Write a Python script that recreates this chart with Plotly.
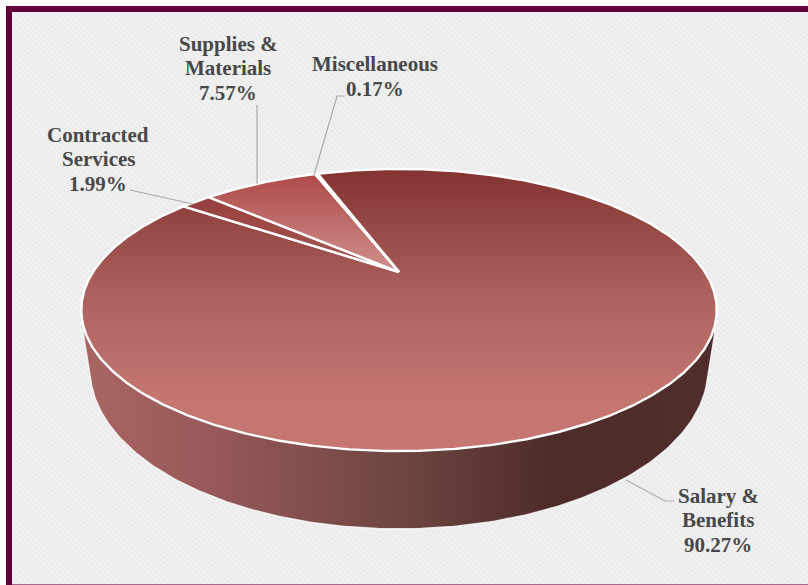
import numpy as np
import plotly.graph_objects as go

categories = ["Salary &|Benefits", "Contracted|Services", "Supplies &|Materials", "Miscellaneous"]
values = [90.27, 1.99, 7.57, 0.17]
start_angle = 340.5

W, H = 808, 585
CX, CY, A, B, K = 399, 272, 306, 130.8, 0.2695
# position 0 = bottom of the slice on screen, 1 = top (the y axis is reversed)
slice_grads = [
    [[0, "#C67772"], [0.2, "#C47570"], [0.55, "#AC625D"], [1, "#833330"]],
    [[0, "#A85A57"], [1, "#963F3C"]],
    [[0, "#D08E8C"], [0.5, "#BE6E6B"], [1, "#AE4947"]],
    [[0, "#C67070"], [1, "#AE4947"]],
]
wall_grad = [[0, "#A96663"], [0.2, "#97595A"], [0.5, "#6E4541"], [0.75, "#4C2B29"], [1, "#4F2E2C"]]


def project(phi_deg):
    p = np.radians(phi_deg)
    w = 1 + K * np.cos(p)
    return CX + A * np.sin(p) / w, CY - B * np.cos(p) / w


fig = go.Figure()

# patterned plot background
fig.add_trace(go.Scatter(
    x=[12, W, W, 12, 12], y=[12, 12, 584, 584, 12], mode="lines", line=dict(width=0),
    fill="toself", fillcolor="#EEEEEE",
    fillpattern=dict(shape="\\", size=4, solidity=0.35, fgcolor="#FBFBFB", bgcolor="#EBEBEB"),
    hoverinfo="skip"))

# side wall
t = np.linspace(174, 6, 169)
lx = 399 + 309 * np.cos(np.radians(t))
ly = 369 + 160 * np.sin(np.radians(t))
wx = np.concatenate([[81, 84], lx, [714, 717, 81]])
wy = np.concatenate([[310, 338], ly, [338, 310, 310]])
fig.add_trace(go.Scatter(
    x=wx, y=wy, mode="lines", line=dict(color="rgba(255,255,255,0.8)", width=1.5),
    fill="toself", fillgradient=dict(type="horizontal", colorscale=wall_grad), hoverinfo="skip"))

# top face slices
angle = start_angle
for val, grad in zip(values, slice_grads):
    sweep = val / sum(values) * 360
    phi = np.linspace(angle, angle + sweep, max(int(sweep * 2), 2) + 1)
    px, py = project(phi)
    fig.add_trace(go.Scatter(
        x=np.concatenate([[CX], px, [CX]]), y=np.concatenate([[CY], py, [CY]]),
        mode="lines", line=dict(color="white", width=2.4),
        fill="toself", fillgradient=dict(type="vertical", colorscale=grad), hoverinfo="skip"))
    angle += sweep

# leader lines
leaders = [
    ([626, 665, 674], [480, 501, 501]),
    ([193, 130], [204, 190]),
    ([257, 257], [184, 105]),
    ([314, 337, 345], [175, 96, 96]),
]
for lxs, lys in leaders:
    fig.add_trace(go.Scatter(x=lxs, y=lys, mode="lines", line=dict(color="#ABABAB", width=1.2), hoverinfo="skip"))

# labels: one annotation per text line, reference leading is 24.5 px
label_pos = [(718, 520), (98, 159), (228, 68), (375, 76.5)]
for cat, val, (x, y) in zip(categories, values, label_pos):
    lines = cat.split("|") + [f"{val:.2f}%"]
    y0 = y - (len(lines) - 1) * 24.5 / 2
    for i, line in enumerate(lines):
        fig.add_annotation(x=x, y=y0 + i * 24.5, text=f"<b>{line}</b>", showarrow=False,
                           xanchor="center", yanchor="middle",
                           font=dict(family="Liberation Serif", size=21, color="#484848"))

fig.update_layout(
    width=W, height=H, margin=dict(l=0, r=0, t=0, b=0), showlegend=False,
    paper_bgcolor="white", plot_bgcolor="white",
    xaxis=dict(range=[0, W], visible=False, fixedrange=True),
    yaxis=dict(range=[H, 0], visible=False, fixedrange=True),
    shapes=[
        dict(type="rect", x0=9, y0=9, x1=W + 20, y1=H + 20, line=dict(color="#62003B", width=6), layer="above"),
        dict(type="line", x0=12, y0=584.5, x1=W, y1=584.5, line=dict(color="#A5678A", width=1), layer="above"),
    ],
)
fig.write_html("out.html", config={"displayModeBar": False},
               post_script="document.body.style.margin='0';document.documentElement.style.overflow='hidden';")
